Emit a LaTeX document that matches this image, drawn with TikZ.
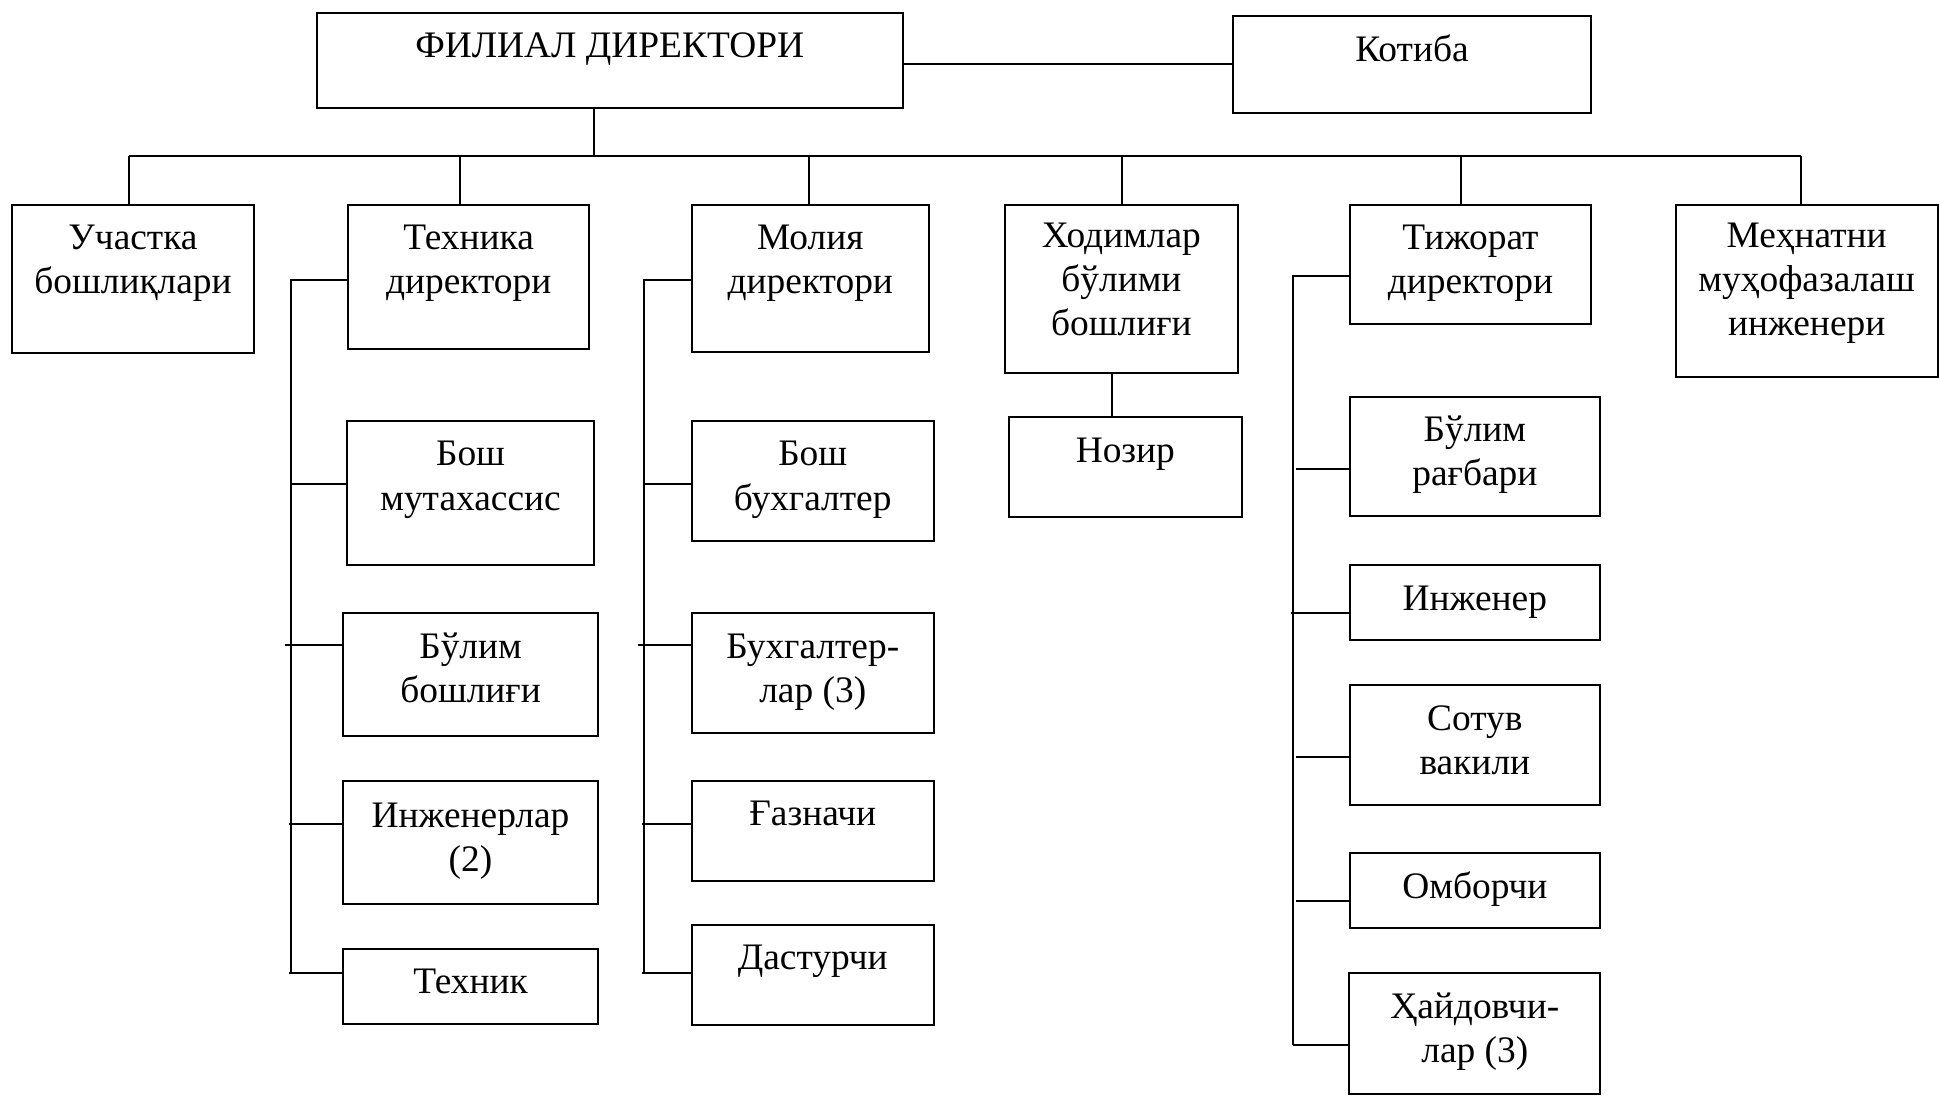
\documentclass[tikz,border=0pt]{standalone}
\usepackage{fontspec}
\setmainfont{Liberation Serif}
\usetikzlibrary{fit}
\tikzset{
  orgbox/.style={draw, line width=1pt, inner sep=0pt},
  orgtxt/.style={anchor=base, align=center, inner sep=0pt, font=\fontsize{18.7}{22}\selectfont},
  link/.style={line width=1pt},
}
% #6 = baseline of the last text line
\newcommand\orgnode[7]{%
  \coordinate (#1-a) at (#2,#3);
  \coordinate (#1-b) at (#4,#5);
  \node[orgbox, fit=(#1-a) (#1-b)] (#1) {};
  \node[orgtxt] (#1-t) at ({(#2+#4)/2},#6) {#7};
}
\begin{document}
\begin{tikzpicture}[x=0.5pt,y=-0.5pt]
\useasboundingbox (0,0) rectangle (1939,1096);
% top level
\orgnode{top}{317}{13}{902.5}{108.5}{58}{ФИЛИАЛ ДИРЕКТОРИ}
\orgnode{kot}{1233}{15.7}{1591}{112.7}{62}{Котиба}
% second level
\orgnode{uch}{12.4}{204.7}{253.6}{352.7}{294}{Участка\\бошлиқлари}
\orgnode{tex}{348.3}{204.7}{589}{348.7}{294}{Техника\\директори}
\orgnode{mol}{691.6}{204.7}{929}{352}{294}{Молия\\директори}
\orgnode{hod}{1005.3}{204.7}{1237.5}{372.7}{336}{Ходимлар\\бўлими\\бошлиғи}
\orgnode{tij}{1349.8}{204.7}{1591}{324.3}{294}{Тижорат\\директори}
\orgnode{meh}{1675.8}{204.7}{1937.5}{376.7}{336}{Меҳнатни\\муҳофазалаш\\инженери}
% Техника children
\orgnode{bm}{347.3}{421}{593.8}{564.5}{510}{Бош\\мутахассис}
\orgnode{bb}{343.3}{612.9}{597.8}{736.2}{702}{Бўлим\\бошлиғи}
\orgnode{ing}{343.3}{781}{597.8}{904}{871}{Инженерлар\\(2)}
\orgnode{tek}{343.3}{949}{597.8}{1024}{993}{Техник}
% Молия children
\orgnode{bbx}{692}{421}{933.5}{540.7}{510}{Бош\\бухгалтер}
\orgnode{bux}{692}{612.9}{933.5}{732.5}{702}{Бухгалтер-\\лар (3)}
\orgnode{gaz}{692}{781}{933.5}{880.5}{825}{Ғазначи}
\orgnode{das}{692}{924.7}{933.5}{1024.7}{969}{Дастурчи}
% Ходимлар child
\orgnode{noz}{1009}{417.3}{1241.7}{516.7}{462.7}{Нозир}
% Тижорат children
\orgnode{br}{1349.7}{397.4}{1600}{516}{486}{Бўлим\\рағбари}
\orgnode{inj}{1349.7}{565}{1600}{640.3}{610.6}{Инженер}
\orgnode{sot}{1349.7}{685}{1600}{804.7}{774}{Сотув\\вакили}
\orgnode{omb}{1349.7}{853}{1600}{928.3}{898}{Омборчи}
\orgnode{hay}{1349.3}{972.7}{1600.3}{1094}{1062}{Ҳайдовчи-\\лар (3)}
% connectors: top
\draw[link] (kot.west -| top.east) -- (kot.west);
\coordinate (bj) at (594,156);
\draw[link] (bj |- top.south) -- (bj);
\coordinate (d1) at (128.7,156);
\coordinate (d2) at (459.6,156);
\coordinate (d3) at (808.5,156);
\coordinate (d4) at (1121.6,156);
\coordinate (d5) at (1461,156);
\coordinate (d6) at (1801,156);
\draw[link] (d1) -- (d6);
\draw[link] (d1) -- (d1 |- uch.north);
\draw[link] (d2) -- (d2 |- tex.north);
\draw[link] (d3) -- (d3 |- mol.north);
\draw[link] (d4) -- (d4 |- hod.north);
\draw[link] (d5) -- (d5 |- tij.north);
\draw[link] (d6) -- (d6 |- meh.north);
% Техника branch
\coordinate (tv) at (291,280);
\coordinate (tvb) at (291,972.7);
\draw[link] (tv -| tex.west) -- (tv) -- (tvb);
\coordinate (t1) at (291,484);
\coordinate (t2) at (284.8,644.8);
\coordinate (t3) at (289,823.8);
\coordinate (t4) at (289,972.7);
\draw[link] (t1) -- (t1 -| bm.west);
\draw[link] (t2) -- (t2 -| bb.west);
\draw[link] (t3) -- (t3 -| ing.west);
\draw[link] (t4) -- (t4 -| tek.west);
% Молия branch
\coordinate (mv) at (643.8,280);
\coordinate (mvb) at (643.8,972.7);
\draw[link] (mv -| mol.west) -- (mv) -- (mvb);
\coordinate (m1) at (643.8,484);
\coordinate (m2) at (638.4,644.8);
\coordinate (m3) at (642,823.8);
\coordinate (m4) at (642,972.7);
\draw[link] (m1) -- (m1 -| bbx.west);
\draw[link] (m2) -- (m2 -| bux.west);
\draw[link] (m3) -- (m3 -| gaz.west);
\draw[link] (m4) -- (m4 -| das.west);
% Ходимлар -> Нозир
\coordinate (hx) at (1112.3,400);
\draw[link] (hx |- hod.south) -- (hx |- noz.north);
% Тижорат branch
\coordinate (jv) at (1292.7,276);
\coordinate (jvb) at (1292.7,1044.7);
\draw[link] (jv -| tij.west) -- (jv) -- (jvb);
\coordinate (j1) at (1295.7,468.6);
\coordinate (j2) at (1290.7,612.9);
\coordinate (j3) at (1295.7,756.7);
\coordinate (j4) at (1295.7,900.5);
\coordinate (j5) at (1292.7,1044.7);
\draw[link] (j1) -- (j1 -| br.west);
\draw[link] (j2) -- (j2 -| inj.west);
\draw[link] (j3) -- (j3 -| sot.west);
\draw[link] (j4) -- (j4 -| omb.west);
\draw[link] (j5) -- (j5 -| hay.west);
\end{tikzpicture}
\end{document}
